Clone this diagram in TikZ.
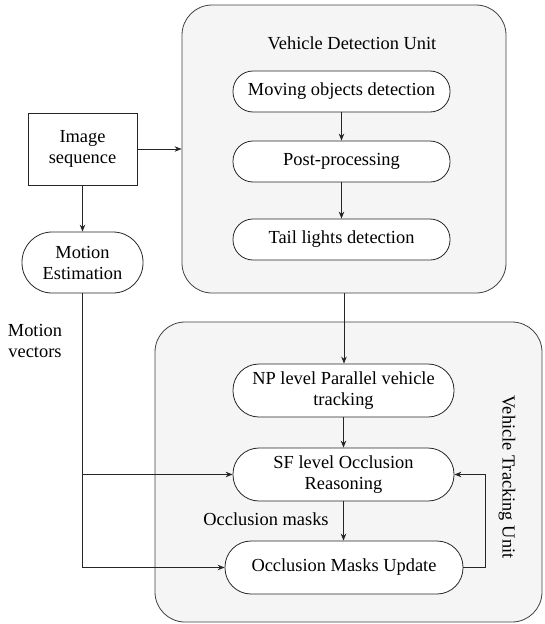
\documentclass[tikz,border=0pt]{standalone}
\usepackage{fontspec}
\setmainfont{Liberation Serif}
\usetikzlibrary{arrows.meta}
\begin{document}
\begin{tikzpicture}[x=1pt,y=-1pt,
  font=\fontsize{18.4}{21}\selectfont,
  line width=0.8pt, draw=black!85,
  unit/.style={draw=black!75, fill=black!4, rounded corners=30pt, line width=0.8pt, inner sep=0pt},
  pill/.style={draw=black!85, fill=white, align=center, inner sep=0pt},
  arr/.style={draw=black!85, -{Stealth[length=7pt,width=5.5pt]}},
  lbl/.style={align=center, inner sep=0pt}]
\useasboundingbox (0,0) rectangle (544,624);
% units
\node[unit, minimum width=324pt, minimum height=288pt] (du) at (344,149) {};
\node[unit, minimum width=387pt, minimum height=300pt] (tu) at (348.5,472) {};
\node[lbl] (dut) at (352,43) {Vehicle Detection Unit};
\node[lbl, rotate=-90] (tut) at (507,477) {Vehicle Tracking Unit};
% detection steps
\node[pill, rounded corners=20pt, minimum width=217pt, minimum height=41pt] (mod) at (341.5,91.5) {Moving objects detection};
\node[pill, rounded corners=20pt, minimum width=217pt, minimum height=41pt] (pp) at (341.5,161.5) {Post-processing};
\node[pill, rounded corners=20pt, minimum width=217pt, minimum height=41pt] (tl) at (341.5,239.5) {Tail lights detection};
% tracking steps
\node[pill, rounded corners=26pt, minimum width=221pt, minimum height=53pt] (np) at (343.5,390.5) {NP level Parallel vehicle\\tracking};
\node[pill, rounded corners=26pt, minimum width=221pt, minimum height=53pt] (sf) at (343.5,474.5) {SF level Occlusion\\Reasoning};
\node[pill, rounded corners=26pt, minimum width=238pt, minimum height=53pt] (omu) at (344,567.5) {Occlusion Masks Update};
% left side
\node[pill, rounded corners=0pt, minimum width=109pt, minimum height=72pt] (img) at (82.5,149) {Image\\sequence};
\node[pill, rounded corners=30pt, minimum width=121pt, minimum height=61pt] (me) at (82.5,262.5) {Motion\\Estimation};
\node[lbl] (mv) at (35,341) {Motion\\vectors};
\node[lbl] (om) at (266,519) {Occlusion masks};
% connectors
\draw[arr] (img.east) -- (img.east -| du.west);
\draw[arr] (img) -- (me);
\draw[arr] (mod) -- (pp);
\draw[arr] (pp) -- (tl);
\draw[arr] (du.south) -- (du.south |- np.north);
\draw[arr] (np) -- (sf);
\draw[arr] (sf.south) -- (sf.south |- omu.north);
\coordinate (c1) at (me.south |- omu.west);
\draw[arr] (me.south) -- (c1) -- (omu.west);
\draw[arr] (me.south |- sf.west) -- (sf.west);
\coordinate (fb) at (485,500);
\draw[arr] (omu.east) -- (omu.east -| fb) -- (sf.east -| fb) -- (sf.east);
\end{tikzpicture}
\end{document}
